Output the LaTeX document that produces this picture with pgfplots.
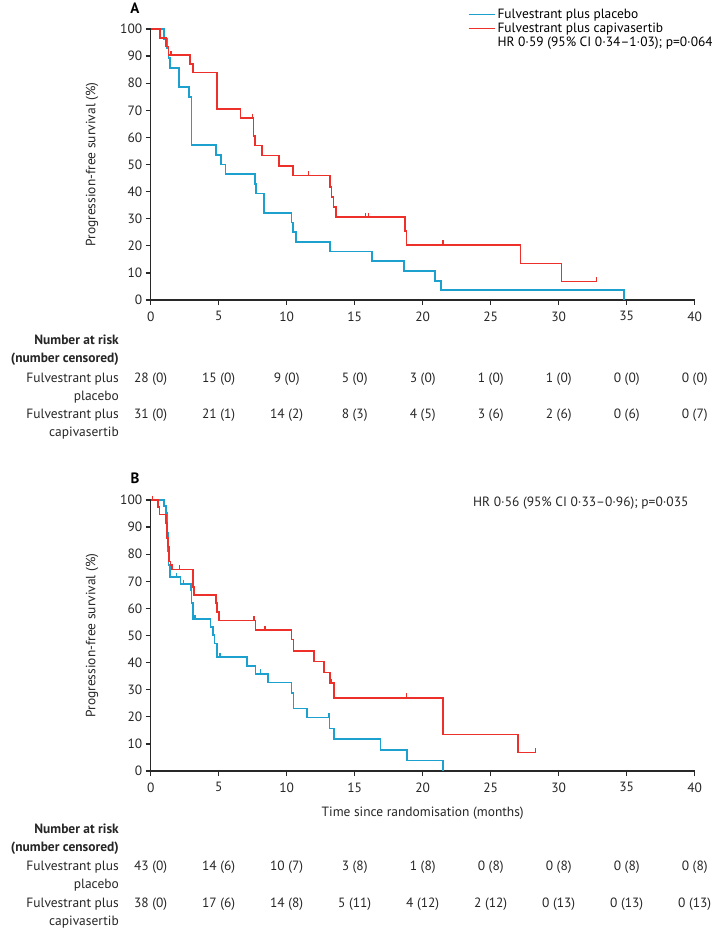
\documentclass[border=0pt]{standalone}
\usepackage{fontspec}
\setmainfont{PT Sans}
\usepackage{pgfplots}
\pgfplotsset{compat=1.18}
\definecolor{kmblue}{RGB}{28,160,205}
\definecolor{kmred}{RGB}{238,48,42}
\definecolor{axgray}{RGB}{40,40,40}
\newcommand\fs{\fontsize{13.5}{16}\selectfont}

\pgfplotsset{
  kmaxis/.style={
    scale only axis, width=544bp, height=271bp,
    xmin=0, xmax=40, ymin=0, ymax=100,
    axis x line*=bottom, axis y line*=left,
    axis line style={-, line width=1.3bp, axgray},
    xtick={0,5,...,40}, ytick={0,10,...,100},
    tick align=outside, major tick length=5bp,
    tick style={line width=1.3bp, axgray},
    ticklabel style={font=\fs, text=black!85},
    xticklabel style={yshift=-3bp},
    /pgf/number format/assume math mode=true,
    clip=false,
    ylabel={Progression-free survival (\%)},
    every axis y label/.style={at={(axis description cs:-0.108,0.5)}, rotate=90, anchor=center, font=\fs, text=black!85},
  },
  kmline/.style={const plot, line width=1.7bp, mark=none},
  censor/.style={only marks, mark=|, mark size=2.5bp, mark options={line width=1.3bp, yshift=2bp}, forget plot},
}

\begin{document}
\begin{tikzpicture}
\path[use as bounding box] (0,0) rectangle (712bp,-930bp);

% ---------------- Panel A ----------------
\begin{axis}[kmaxis, at={(150.7bp,-300bp)}, anchor=south west,
  legend style={draw=none, fill=none, at={(axis description cs:0.583,1.081)}, anchor=north west,
    font=\fs, inner sep=0pt, outer sep=0pt, row sep=-1bp, cells={anchor=west},
    /tikz/every even column/.append style={column sep=2bp}},
  legend image code/.code={\draw[#1, line width=1.7bp] (0bp,0bp) -- (26bp,0bp);},
]
\addplot[kmline, kmblue] coordinates {
(0,100) (1.0,96.4) (1.2,92.9) (1.3,89.3) (1.4,85.7) (2.1,78.6) (2.8,75.0) (3.0,57.1)
(4.8,53.6) (5.15,50.0) (5.5,46.4) (7.65,42.9) (7.75,39.3) (8.35,32.1) (10.35,28.6)
(10.45,25.0) (10.7,21.4) (13.2,17.9) (16.25,14.3) (18.65,10.7) (20.9,7.1) (21.35,3.6) (34.8,0)
};
\addlegendentry{Fulvestrant plus placebo}
\addplot[kmline, kmred] coordinates {
(0,100) (0.7,96.8) (1.1,93.5) (1.3,90.3) (2.9,87.1) (3.1,83.9) (4.85,70.5) (6.6,67.1)
(7.55,60.4) (7.65,57.0) (8.2,53.3) (9.45,49.5) (10.45,45.9) (13.2,41.8) (13.3,38.1)
(13.45,34.3) (13.65,30.5) (18.7,25.5) (18.8,20.3) (27.2,13.5) (30.2,6.8) (32.8,6.8)
};
\addlegendentry{Fulvestrant plus capivasertib}
\addlegendimage{empty legend}
\addlegendentry{HR 0·59 (95\% CI 0·34–1·03); p=0·064}
\addplot[censor, kmred] coordinates {
(1.5,90.3) (7.5,67.1) (11.6,45.9) (15.8,30.5) (16.0,30.5) (21.5,20.3) (32.8,6.8)
};
\end{axis}

\node[font=\fontsize{15}{18}\selectfont\bfseries] at (135bp,-8bp) {A};

% risk table A
\begin{scope}[every node/.style={font=\fs, inner sep=0pt, text=black!85}]
\node[anchor=east, font=\fs\bfseries] at (119bp,-340bp) {Number at risk};
\node[anchor=east, font=\fs\bfseries] at (119bp,-359bp) {(number censored)};
\node[anchor=east] at (119bp,-379bp) {Fulvestrant plus};
\node[anchor=east] at (119bp,-397bp) {placebo};
\node[anchor=east] at (119bp,-415bp) {Fulvestrant plus};
\node[anchor=east] at (119bp,-433bp) {capivasertib};
\foreach \v [count=\i from 0] in {28 (0),15 (0),9 (0),5 (0),3 (0),1 (0),1 (0),0 (0),0 (0)}
  \node at ({150.7bp+68bp*\i},-379bp) {\v};
\foreach \v [count=\i from 0] in {31 (0),21 (1),14 (2),8 (3),4 (5),3 (6),2 (6),0 (6),0 (7)}
  \node at ({150.7bp+68bp*\i},-415bp) {\v};
\end{scope}

% ---------------- Panel B ----------------
\begin{axis}[kmaxis, at={(150.7bp,-771bp)}, anchor=south west,
  xlabel={Time since randomisation (months)},
  every axis x label/.style={at={(axis description cs:0.5,0)}, anchor=center, yshift=-42bp, font=\fs, text=black!85},
]
\addplot[kmline, kmblue] coordinates {
(0,100) (0.98,97.7) (1.1,95.3) (1.2,88) (1.25,81) (1.3,76) (1.4,71.5) (2.2,69.0)
(2.95,66.8) (3.0,62) (3.1,56.0) (4.4,53.2) (4.6,50.2) (4.7,47.0) (4.85,42.0) (7.1,38.7)
(7.7,35.8) (8.6,32.7) (10.35,28.7) (10.5,23.1) (11.5,19.7) (13.15,15.7) (13.5,11.8)
(16.9,7.7) (18.85,3.9) (21.5,0)
};
\addplot[kmline, kmred] coordinates {
(0,100) (0.56,97.4) (0.65,94.7) (1.1,91.4) (1.2,86) (1.25,82.8) (1.35,77.3) (1.45,76.1)
(1.55,74.4) (3.1,68.0) (3.2,65.0) (4.8,61.9) (4.9,58.7) (5.0,55.5) (7.7,52.0) (10.35,48.5)
(10.5,44.3) (12.0,40.4) (12.75,36.4) (13.2,32.4) (13.5,27.0) (21.5,13.5) (27.0,6.8) (28.3,6.8)
};
\addplot[censor, kmblue] coordinates {
(1.9,71.5) (2.4,69.0) (3.25,56.0) (5.1,42.0) (8.07,35.8) (13.1,19.7)
};
\addplot[censor, kmred] coordinates {
(0.15,100) (2.1,74.4) (7.6,55.5) (8.4,52.0) (13.25,32.4) (18.8,27.0) (28.3,6.8)
};
\end{axis}

\node[font=\fontsize{15}{18}\selectfont\bfseries] at (135bp,-478bp) {B};
\node[font=\fs, anchor=west, inner sep=0pt, text=black!85] at (473bp,-503bp) {HR 0·56 (95\% CI 0·33–0·96); p=0·035};

% risk table B
\begin{scope}[every node/.style={font=\fs, inner sep=0pt, text=black!85}]
\node[anchor=east, font=\fs\bfseries] at (119bp,-829bp) {Number at risk};
\node[anchor=east, font=\fs\bfseries] at (119bp,-848bp) {(number censored)};
\node[anchor=east] at (119bp,-867bp) {Fulvestrant plus};
\node[anchor=east] at (119bp,-885bp) {placebo};
\node[anchor=east] at (119bp,-904bp) {Fulvestrant plus};
\node[anchor=east] at (119bp,-922bp) {capivasertib};
\foreach \v [count=\i from 0] in {43 (0),14 (6),10 (7),3 (8),1 (8),0 (8),0 (8),0 (8),0 (8)}
  \node at ({150.7bp+68bp*\i},-867bp) {\v};
\foreach \v [count=\i from 0] in {38 (0),17 (6),14 (8),5 (11),4 (12),2 (12),0 (13),0 (13),0 (13)}
  \node at ({150.7bp+68bp*\i},-904bp) {\v};
\end{scope}
\end{tikzpicture}
\end{document}
